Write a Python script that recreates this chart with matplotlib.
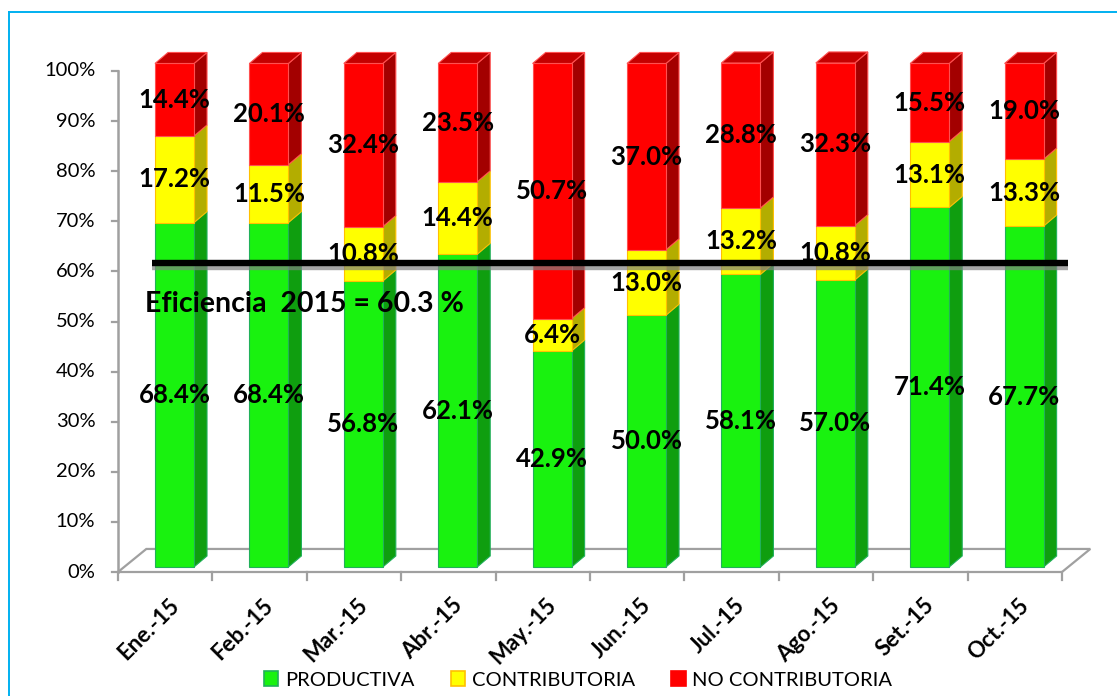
import matplotlib
matplotlib.use("Agg")
import matplotlib.pyplot as plt
from matplotlib.patches import Polygon, Rectangle, Patch
from matplotlib.lines import Line2D
import matplotlib.patheffects as pe

# ---- data ----
months = ['Ene.-15', 'Feb.-15', 'Mar.-15', 'Abr.-15', 'May.-15',
          'Jun.-15', 'Jul.-15', 'Ago.-15', 'Set.-15', 'Oct.-15']
productiva = [68.4, 68.4, 56.8, 62.1, 42.9, 50.0, 58.1, 57.0, 71.4, 67.7]
contributoria = [17.2, 11.5, 10.8, 14.4, 6.4, 13.0, 13.2, 10.8, 13.1, 13.3]
no_contributoria = [14.4, 20.1, 32.4, 23.5, 50.7, 37.0, 28.8, 32.3, 15.5, 19.0]
series_names = ['PRODUCTIVA', 'CONTRIBUTORIA', 'NO CONTRIBUTORIA']
eficiencia = 60.3
y_ticks = [0, 10, 20, 30, 40, 50, 60, 70, 80, 90, 100]

# ---- styling ----
FONT = 'Lato'
plt.rcParams['font.family'] = [FONT, 'DejaVu Sans']

front_cols = ['#19F20F', '#FFFF00', '#FF0000']
side_cols = ['#0F9E0F', '#B3AD00', '#A30000']
top_cols = ['#12C412', '#D8D400', '#C40000']
edge_cols = ['#21B05A', '#FFC000', '#FF5050']

# pseudo-3D projection parameters (in data units)
FLOOR = 1.0        # bars sit slightly above the front floor edge
K = 1.005          # vertical scale of bar front faces
DX, DY = 0.138, 2.2  # bar depth (side / top faces)
BAR_L, BAR_W = 0.392, 0.413
FLOOR_DX, FLOOR_DY = 0.30, 4.6

W, H = 1117, 696
fig = plt.figure(figsize=(W / 100, H / 100), dpi=100)
ax = fig.add_axes([118 / W, (H - 572) / H, 944 / W, 501 / H])
ax.set_xlim(0, len(months))
ax.set_ylim(0, 100)
ax.axis('off')

grey = '#A0A0A0'

# floor of the 3-D plot area
n = len(months)
floor = Polygon([(0, 0), (n, 0), (n + FLOOR_DX, FLOOR_DY), (FLOOR_DX, FLOOR_DY)],
                closed=True, facecolor='none', edgecolor=grey, lw=1.6,
                clip_on=False, zorder=1)
ax.add_patch(floor)

# value axis with ticks
ax.plot([0, 0], [0, 100], color=grey, lw=1.8, clip_on=False, zorder=1)
for t in y_ticks:
    ax.plot([-0.065, 0], [t, t], color=grey, lw=1.6, clip_on=False, zorder=1)
    ax.text(-0.24, t, f'{t}%', ha='right', va='center', fontsize=14.5,
            color='#000000')

# category ticks and labels
for i in range(n + 1):
    ax.plot([i, i], [0, -1.6], color=grey, lw=1.6, clip_on=False, zorder=1)
for i, m in enumerate(months):
    ax.text(i + 0.61, -6.0, m, rotation=45, rotation_mode='anchor',
            ha='right', va='center', fontsize=16, fontweight='bold')


def proj(v):
    return FLOOR + K * v


# stacked bars
for i in range(n):
    vals = [productiva[i], contributoria[i], no_contributoria[i]]
    xl = i + BAR_L
    xr = xl + BAR_W
    base = 0.0
    for s, v in enumerate(vals):
        y0, y1 = proj(base), proj(base + v)
        side = Polygon([(xr, y0), (xr + DX, y0 + DY), (xr + DX, y1 + DY), (xr, y1)],
                       closed=True, facecolor=side_cols[s], edgecolor=edge_cols[s],
                       lw=0.8, clip_on=False, zorder=3)
        ax.add_patch(side)
        front = Rectangle((xl, y0), BAR_W, y1 - y0, facecolor=front_cols[s],
                          edgecolor=edge_cols[s], lw=0.8, clip_on=False, zorder=4)
        ax.add_patch(front)
        if s == len(vals) - 1:
            top = Polygon([(xl, y1), (xr, y1), (xr + DX, y1 + DY), (xl + DX, y1 + DY)],
                          closed=True, facecolor=top_cols[s], edgecolor=edge_cols[s],
                          lw=0.8, clip_on=False, zorder=4)
            ax.add_patch(top)
        ax.text(xl + BAR_W / 2, (y0 + y1) / 2, f'{v:.1f}%', ha='center',
                va='center', fontsize=18.5, fontweight='bold', zorder=6)
        base += v

# efficiency reference line
ye = proj(eficiencia)
ax.plot([0.36, 10.06], [ye, ye], color='black', lw=4.6, solid_capstyle='butt',
        clip_on=False, zorder=5,
        path_effects=[pe.SimpleLineShadow(offset=(0, -2.6), shadow_color='#808080',
                                          alpha=0.7),
                      pe.Normal()])
ax.text(0.286, 53.4, f'Eficiencia  2015 = {eficiencia} %', ha='left', va='center',
        fontsize=20.5, fontweight='bold', zorder=6)

# legend
handles = [Patch(facecolor=front_cols[s], edgecolor=['#21B05A', '#FFC000', '#FF0000'][s],
                 lw=1.2) for s in range(3)]
fig.legend(handles, series_names, loc='center', bbox_to_anchor=(578 / W, 1 - 680 / H),
           ncol=3, frameon=False, fontsize=14.5, handlelength=0.72,
           handleheight=0.72, handletextpad=0.33, columnspacing=1.8)

# outer chart frame
frame_col = '#00B0F0'
fig.add_artist(Line2D([9 / W, 9 / W], [0, 1 - 12 / H], transform=fig.transFigure,
                      color=frame_col, lw=1.4))
fig.add_artist(Line2D([9 / W, 1], [1 - 12 / H, 1 - 12 / H], transform=fig.transFigure,
                      color=frame_col, lw=1.4))

fig.savefig('out.png', dpi=100, facecolor='white')
